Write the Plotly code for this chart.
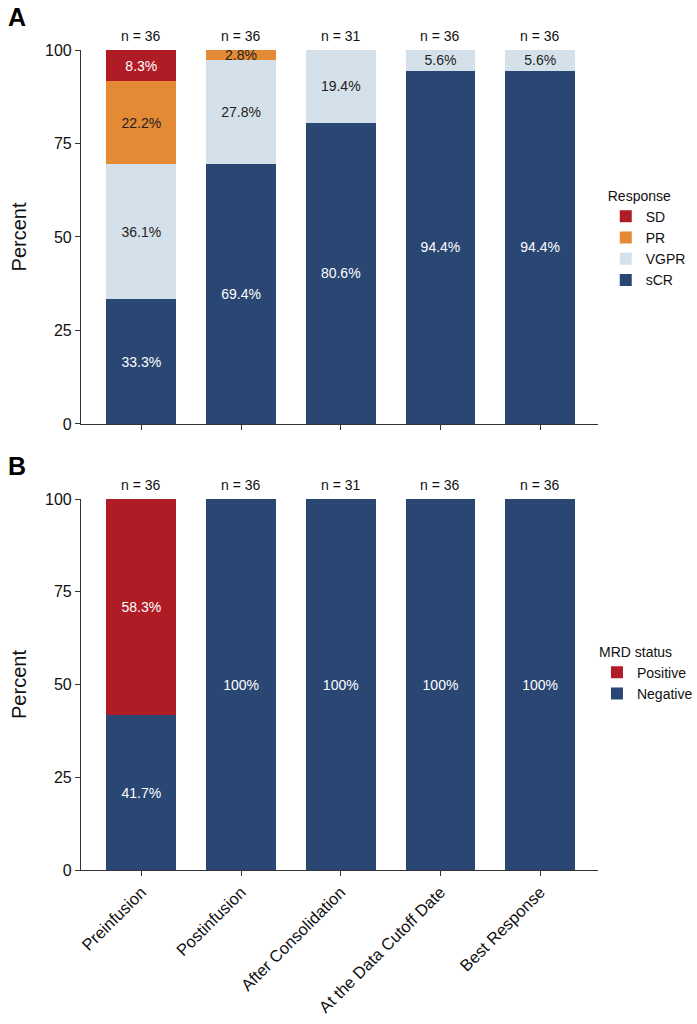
import plotly.graph_objects as go
from plotly.subplots import make_subplots

categories = ["Preinfusion", "Postinfusion", "After Consolidation", "At the Data Cutoff Date", "Best Response"]
n_values = [36, 36, 31, 36, 36]

# Panel A: response (percent)
scr = [33.3, 69.4, 80.6, 94.4, 94.4]
vgpr = [36.1, 27.8, 19.4, 5.6, 5.6]
pr = [22.2, 2.8, 0, 0, 0]
sd = [8.3, 0, 0, 0, 0]

# Panel B: MRD status (percent)
mrd_neg = [41.7, 100, 100, 100, 100]
mrd_pos = [58.3, 0, 0, 0, 0]

NAVY = "#2A4673"
LIGHT = "#D5E1EA"
ORANGE = "#E58A34"
RED = "#B01C26"
FONT = "Liberation Sans, Arial, sans-serif"

def fmt(v):
    if v == 0:
        return ""
    if abs(v - 100) < 1e-9:
        return "100%"
    return f"{v:.1f}%"

fig = make_subplots(rows=2, cols=1, vertical_spacing=0.0)

def add_bar(vals, name, color, txtcolor, row, legend):
    fig.add_trace(go.Bar(
        x=categories, y=vals, name=name, marker=dict(color=color, line=dict(width=0)),
        text=[fmt(v) for v in vals], textposition="inside", insidetextanchor="middle",
        constraintext="none", textangle=0, cliponaxis=False,
        textfont=dict(color=txtcolor, size=14, family=FONT),
        legend=legend, hoverinfo="skip"
    ), row=row, col=1)

add_bar(scr, "sCR", NAVY, "white", 1, "legend")
add_bar(vgpr, "VGPR", LIGHT, "#222222", 1, "legend")
add_bar(pr, "PR", ORANGE, "#222222", 1, "legend")
add_bar(sd, "SD", RED, "white", 1, "legend")
add_bar(mrd_neg, "Negative", NAVY, "white", 2, "legend2")
add_bar(mrd_pos, "Positive", RED, "white", 2, "legend2")

axis_common = dict(showline=True, linecolor="#333333", linewidth=1.2, ticks="outside",
                   ticklen=5, tickcolor="#333333", showgrid=False, zeroline=False,
                   automargin=False,
                   tickfont=dict(size=16, color="#111111", family=FONT))

fig.update_yaxes(range=[0, 100], tickvals=[0, 25, 50, 75, 100], **axis_common,
                 title=dict(text="Percent", font=dict(size=20, color="#111111", family=FONT), standoff=12))
fig.update_xaxes(range=[-0.605, 4.58], **axis_common)
fig.update_xaxes(showticklabels=False, row=1, col=1)
fig.update_xaxes(tickangle=-45, tickfont=dict(size=16.5, color="#111111", family=FONT), row=2, col=1)

fig.update_layout(
    yaxis=dict(domain=[0.544, 1.0]),
    yaxis2=dict(domain=[0.0, 0.4524]),
    xaxis=dict(anchor="y"),
    xaxis2=dict(anchor="y2"),
)

# n = labels above bars
for i, cat in enumerate(categories):
    for yref, xref in (("y", "x"), ("y2", "x2")):
        fig.add_annotation(x=cat, y=100, xref=xref, yref=yref, text=f"n = {n_values[i]}",
                           showarrow=False, yanchor="bottom", yshift=4,
                           font=dict(size=14, color="#111111", family=FONT))

fig.add_annotation(x=-0.145, y=1.0, xref="paper", yref="paper", text="<b>A</b>", showarrow=False,
                   xanchor="left", yanchor="bottom", yshift=17, font=dict(size=25, color="black", family=FONT))
fig.add_annotation(x=-0.145, y=0.4524, xref="paper", yref="paper", text="<b>B</b>", showarrow=False,
                   xanchor="left", yanchor="bottom", yshift=17, font=dict(size=25, color="black", family=FONT))

fig.update_layout(
    width=697, height=1024,
    margin=dict(l=81, r=99, t=50, b=154, autoexpand=False),
    barmode="stack", bargap=0.3,
    plot_bgcolor="white", paper_bgcolor="white",
    font=dict(family=FONT, color="#111111"),
    legend=dict(title=dict(text="Response", font=dict(size=14)), traceorder="reversed",
                x=1.015, xanchor="left", y=0.7695, yanchor="middle", font=dict(size=14),
                tracegroupgap=0),
    legend2=dict(title=dict(text="MRD status", font=dict(size=14)), traceorder="reversed",
                 x=0.998, xanchor="left", y=0.239, yanchor="middle", font=dict(size=14)),
    showlegend=True,
)

fig.write_html("out.html", config={"displayModeBar": False},
               post_script="document.body.style.margin='0px';document.body.style.overflow='hidden';")
